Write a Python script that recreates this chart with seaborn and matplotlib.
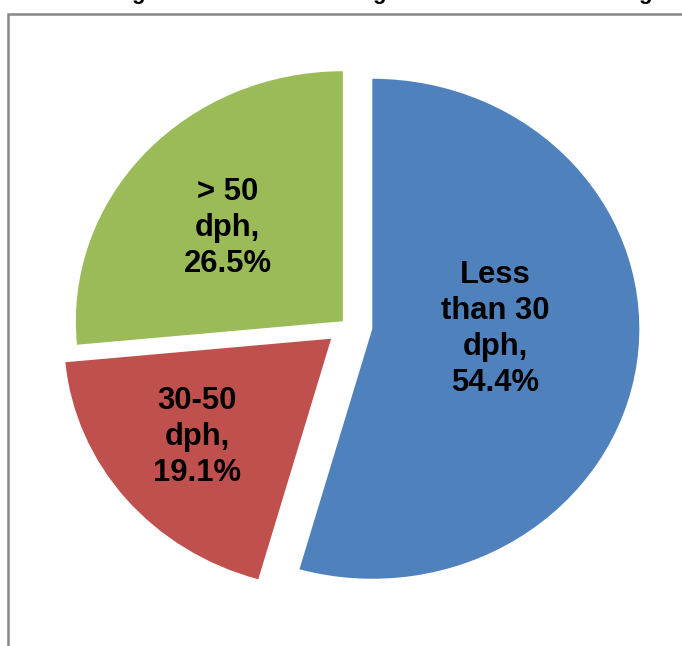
import matplotlib
matplotlib.use("Agg")
import matplotlib.pyplot as plt
import seaborn as sns
from matplotlib.patches import Rectangle

sns.set_theme(style="white")
plt.rcParams['font.family'] = ['Liberation Sans', 'DejaVu Sans']

# Data
categories = ["Less\nthan 30\ndph,", "30-50\ndph,", "> 50\ndph,"]
shares = [54.4, 19.1, 26.5]
colors = ["#4F81BD", "#C0504D", "#9BBB59"]
explode = [0.092, 0.082, 0.026]
label_pos = [(0.551, -0.014), (-0.566, -0.446), (-0.451, 0.390)]

W, H = 682, 646
fig = plt.figure(figsize=(W / 100, H / 100), dpi=100)
fig.patch.set_facecolor("white")
ax = fig.add_axes([0, 0, 1, 1])

wedges, _ = ax.pie(shares, colors=colors, explode=explode, startangle=90,
                   counterclock=False, radius=1.0,
                   wedgeprops=dict(linewidth=0))

for (x, y), cat, v in zip(label_pos, categories, shares):
    ax.text(x, y, f"{cat}\n{v:.1f}%", ha="center", va="center",
            fontsize=22.3, fontweight="bold", color="black", linespacing=1.25)

# Map: pie center at pixel (348, 325.6 from top), rx=267 px, ry=250 px
cx, cy_top, rx, ry = 348, 325.6, 267, 250
ax.set_aspect("auto")
ax.set_xlim(-cx / rx, (W - cx) / rx)
ax.set_ylim(-(H - cy_top) / ry, cy_top / ry)
ax.axis("off")

# Chart frame (cropped: only top and left visible)
fig.add_artist(Rectangle((7.5 / W, -0.1), 1.2, 1.1 - 13.5 / H,
                         transform=fig.transFigure, fill=False,
                         edgecolor="#888888", linewidth=1.8, clip_on=False))

# Cropped title (only descenders visible)
for gx in [138, 379, 645]:
    fig.text(gx / W, 1.0 + 1.5 / H, "g", ha="center", va="baseline",
             fontsize=16, fontweight="bold", color="black")

fig.savefig("out.png", dpi=100, facecolor="white")
